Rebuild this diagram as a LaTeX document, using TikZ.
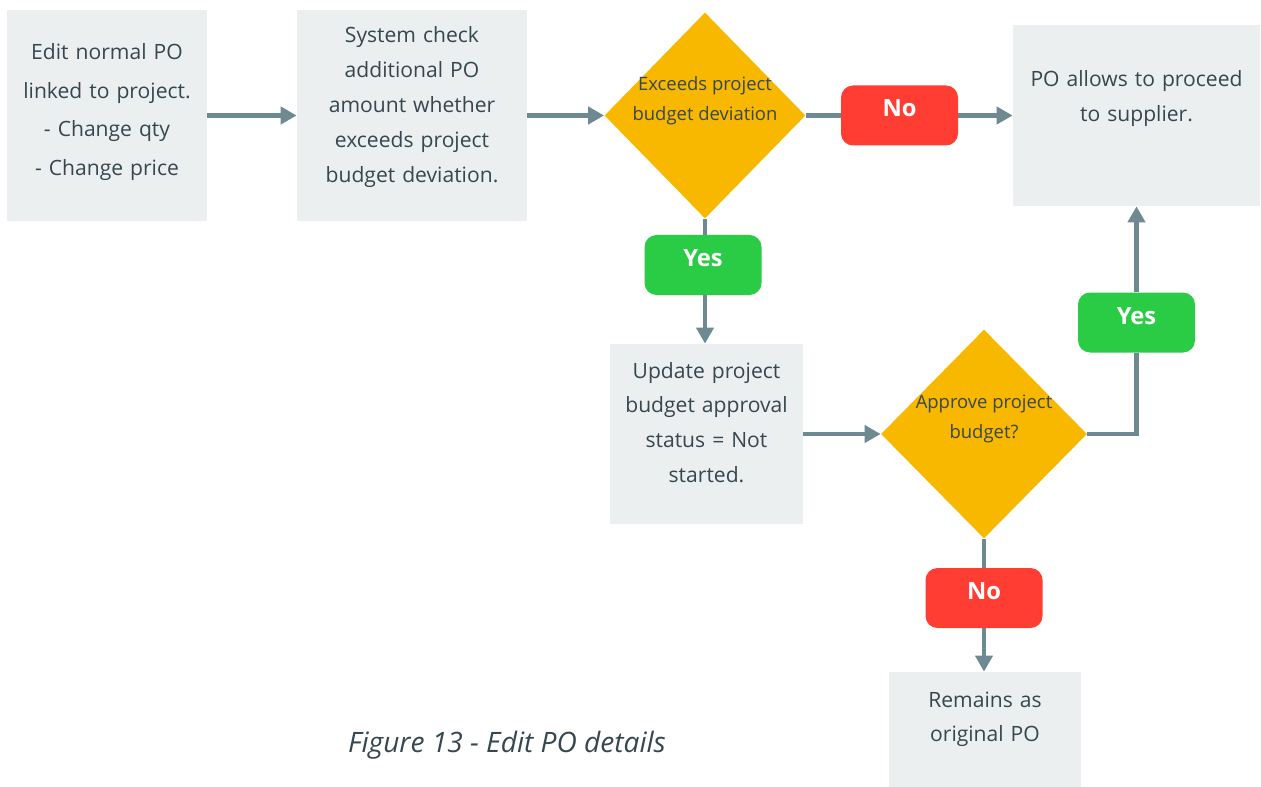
\documentclass[tikz,border=0pt]{standalone}
\usepackage{fontspec}
\setmainfont{Open Sans}
\usetikzlibrary{shapes.geometric,arrows.meta}
\newdimen\pxu
\pxu=0.02cm
\definecolor{ink}{HTML}{37474F}
\definecolor{boxgray}{HTML}{ECEFF0}
\definecolor{flowgray}{HTML}{6F8993}
\definecolor{gold}{HTML}{F9B800}
\definecolor{tagred}{HTML}{FF3D33}
\definecolor{taggreen}{HTML}{2BCC45}
\tikzset{proc/.style n args={3}{
    fill=boxgray, text=ink, inner sep=0pt, align=center,
    font=\fontsize{12}{19.8}\selectfont,
    text width=#1\pxu, text height=#2\pxu, text depth=#3\pxu
  },
  decision/.style={
    diamond, fill=gold, text=ink, inner sep=0pt,
    font=\fontsize{10.5}{17}\selectfont
  },
  tag/.style={
    rectangle, rounded corners=12\pxu, fill=#1, text=white, inner sep=0pt,
    minimum width=117\pxu, minimum height=60\pxu,
    text height=17\pxu, text depth=14\pxu,
    font=\fontsize{13.5}{16}\selectfont\bfseries
  },
  flow/.style={draw=flowgray, line width=0.09cm},
  arr/.style={flow, -{Triangle[length=0.32cm,width=0.34cm]}}
}
\newcommand\dtext[1]{\raisebox{10\pxu}[0pt][0pt]{\parbox{180\pxu}{\centering #1}}}

\begin{document}
\begin{tikzpicture}[x=0.02cm, y=-0.02cm]
  \useasboundingbox (0,0) rectangle (1261,787);
  % top row
  \node[proc={200}{50}{161}, font=\fontsize{12}{21.9}\selectfont] (edit) at (107,115.5)
    {Edit normal PO\\linked to project.\\- Change qty\\- Change price};
  \node[proc={230}{33}{178}] (sys) at (412,115.5)
    {System check\\additional PO\\amount whether\\exceeds project\\budget deviation.};
  \node[decision, minimum width=201\pxu, minimum height=206\pxu] (d1) at (705,115.5)
    {\dtext{Exceeds project\\budget deviation}};
  \node[tag=tagred] (no1) at (899.5,115.5) {No};
  \node[proc={247}{62}{119}] (po) at (1136.5,115.5)
    {PO allows to proceed\\to supplier.};
  % lower part
  \node[tag=taggreen] (yes1) at (703,265) {Yes};
  \node[proc={193}{34}{146}] (upd) at (706.5,434)
    {Update project\\budget approval\\status = Not\\started.};
  \node[decision, minimum width=206\pxu, minimum height=209\pxu] (d2) at (984,434)
    {\dtext{Approve project\\budget?}};
  \node[tag=taggreen] (yes2) at (1136.5,322.5) {Yes};
  \node[tag=tagred] (no2) at (984,598) {No};
  \node[proc={192}{35}{80}] (rem) at (985,729.5)
    {Remains as\\original PO};
  \node[text=ink, font=\fontsize{16}{19}\selectfont\itshape] (cap) at (507,745)
    {Figure 13 - Edit PO details};
  % connectors
  \draw[arr] (edit) -- (sys);
  \draw[arr] (sys) -- (d1);
  \draw[flow] (d1) -- (no1);
  \draw[arr] (no1) -- (po);
  \draw[flow] (d1) -- (d1 |- yes1.north);
  \draw[arr] (d1 |- yes1.south) -- (d1 |- upd.north);
  \draw[arr] (upd) -- (d2);
  \draw[flow] (d2.east) -| (yes2.south);
  \draw[arr] (yes2) -- (po);
  \draw[flow] (d2) -- (no2);
  \draw[arr] (no2) -- (no2 |- rem.north);
\end{tikzpicture}
\end{document}
